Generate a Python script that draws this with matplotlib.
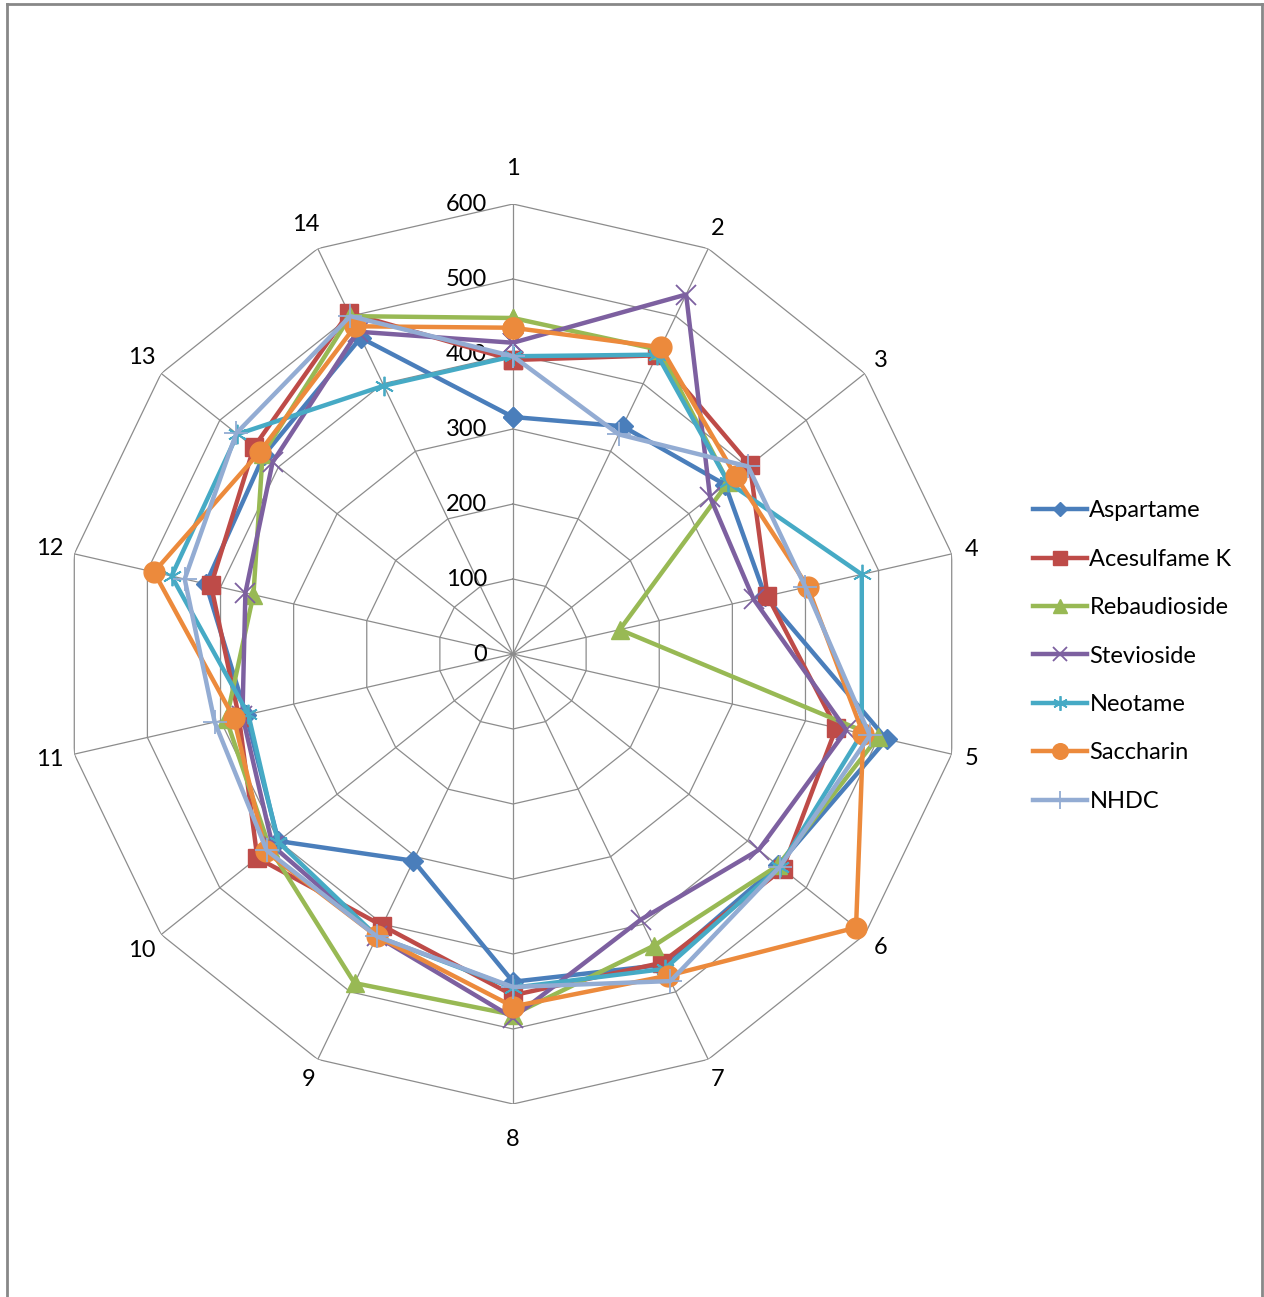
import numpy as np
import matplotlib
matplotlib.use("Agg")
import matplotlib.pyplot as plt
from matplotlib.lines import Line2D
from matplotlib.transforms import offset_copy

plt.rcParams['font.family'] = ['Lato', 'DejaVu Sans']

# Categories (spokes) and sweetener series
categories = [str(i) for i in range(1, 15)]
series_names = ["Aspartame", "Acesulfame K", "Rebaudioside", "Stevioside",
                "Neotame", "Saccharin", "NHDC"]

aspartame    = [316, 337, 362, 345, 511, 452, 460, 437, 306, 400, 365, 420, 425, 468]
acesulfame_k = [392, 442, 404, 348, 442, 460, 457, 455, 402, 436, 375, 413, 442, 505]
rebaudioside = [448, 450, 367, 146, 499, 452, 432, 481, 487, 415, 392, 355, 427, 500]
stevioside   = [415, 532, 336, 329, 456, 419, 393, 485, 418, 410, 370, 366, 410, 477]
neotame      = [397, 443, 367, 477, 477, 455, 466, 445, 418, 401, 362, 467, 470, 397]
saccharin    = [435, 454, 380, 403, 479, 585, 476, 470, 418, 422, 382, 491, 432, 485]
nhdc         = [397, 325, 401, 400, 488, 455, 484, 444, 418, 420, 408, 449, 472, 500]

radial_ticks = [0, 100, 200, 300, 400, 500, 600]

all_series = [aspartame, acesulfame_k, rebaudioside, stevioside, neotame, saccharin, nhdc]

colors = ["#4A7EBB", "#BE4B48", "#98B954", "#7D60A0", "#46AAC5", "#EC8A3C", "#93ACD3"]
markers = ["D", "s", "^", "x", (6, 2, 0), "o", "+"]
msizes = [10, 13, 13, 14, 14, 15, 17]
mews = [1, 1, 1, 1.3, 1.3, 1, 1.3]

FS = 17

fig = plt.figure(figsize=(12.64, 12.97), dpi=100)

# chart-area frame (left, top, right edges)
frame_kw = dict(color="#888888", lw=2.0, transform=fig.transFigure)
fig.add_artist(Line2D([6.5 / 1264, 6.5 / 1264], [0, 1 - 4 / 1297], **frame_kw))
fig.add_artist(Line2D([6.5 / 1264, 1262 / 1264], [1 - 4 / 1297, 1 - 4 / 1297], **frame_kw))
fig.add_artist(Line2D([1262 / 1264, 1262 / 1264], [0, 1 - 4 / 1297], **frame_kw))

cx, cy, R = 513, 654, 450
ax = fig.add_axes([(cx - R) / 1264, (1297 - cy - R) / 1297, 2 * R / 1264, 2 * R / 1297],
                  projection="polar")
ax.set_theta_zero_location("N")
ax.set_theta_direction(-1)
ax.set_ylim(0, 600)
ax.grid(False)
ax.spines["polar"].set_visible(False)
ax.set_xticks([])
ax.set_yticks([])
ax.patch.set_visible(False)

n = len(categories)
theta = np.arange(n) * 2 * np.pi / n
theta_closed = np.append(theta, theta[0])

grid_col = "#8C8C8C"
# polygonal gridlines
for v in radial_ticks[1:]:
    ax.plot(theta_closed, [v] * (n + 1), color=grid_col, lw=0.9, zorder=1)
# spokes
for t in theta:
    ax.plot([t, t], [0, 600], color=grid_col, lw=0.9, zorder=1)

# radial value labels, just left of the vertical spoke
lab_tr = offset_copy(ax.transData, fig=fig, x=-26, y=0, units="dots")
for v in radial_ticks:
    ax.text(0, v, str(v), transform=lab_tr, ha="right", va="center",
            fontsize=FS, color="#000000")

# category labels around the outside
for t, c in zip(theta, categories):
    extra = 20 + (5 if len(c) > 1 else 0) + 16 * abs(np.cos(t)) ** 20
    ax.text(t, 600 + extra / 0.75, c, ha="center", va="center", fontsize=FS)

for name, vals, col, mk, ms, mew in zip(series_names, all_series, colors, markers, msizes, mews):
    ax.plot(theta_closed, list(vals) + [vals[0]], color=col, lw=3.2, marker=mk,
            markersize=ms, markeredgewidth=mew, markeredgecolor=col,
            markerfacecolor=col, label=name, zorder=3, clip_on=False)

leg = fig.legend(loc="upper left", bbox_to_anchor=(1024 / 1264, 1 - 491 / 1297),
                 frameon=False, fontsize=FS, handlelength=2.25, handletextpad=0.12,
                 labelspacing=1.16, borderaxespad=0, markerscale=0.75)

fig.savefig("out.png", dpi=100)
